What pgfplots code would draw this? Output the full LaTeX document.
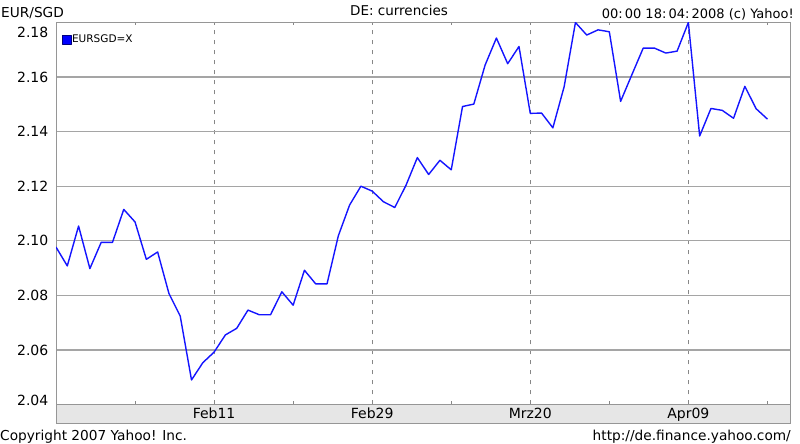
\documentclass[border=0pt]{standalone}
\usepackage{fontspec}
\setmainfont{DejaVu Sans}
\usepackage{pgfplots}
\pgfplotsset{compat=1.18}
\definecolor{gridgray}{RGB}{165,165,165}
\definecolor{dashgray}{RGB}{135,135,135}
\definecolor{framegray}{RGB}{150,150,150}
\definecolor{bandgray}{RGB}{230,230,230}
\definecolor{lineblue}{RGB}{20,20,255}
\pgfplotstableread{
idx val
0 2.0977
1 2.0908
2 2.1054
3 2.0898
4 2.0994
5 2.0994
6 2.1115
7 2.1069
8 2.0932
9 2.0959
10 2.0807
11 2.0724
12 2.0490
13 2.0553
14 2.0592
15 2.0655
16 2.0679
17 2.0746
18 2.0729
19 2.0729
20 2.0813
21 2.0764
22 2.0892
23 2.0842
24 2.0842
25 2.1018
26 2.1131
27 2.1200
28 2.1182
29 2.1143
30 2.1122
31 2.1204
32 2.1305
33 2.1243
34 2.1295
35 2.1260
36 2.1492
37 2.1501
38 2.1644
39 2.1743
40 2.1649
41 2.1712
42 2.1467
43 2.1468
44 2.1414
45 2.1565
46 2.1800
47 2.1754
48 2.1773
49 2.1766
50 2.1511
51 2.1609
52 2.1706
53 2.1706
54 2.1688
55 2.1695
56 2.1800
57 2.1384
58 2.1485
59 2.1478
60 2.1449
61 2.1566
62 2.1484
63 2.1446
}\eursgd
\begin{document}
\begin{tikzpicture}
\useasboundingbox (0pt,0pt) rectangle (800pt,444pt);
\fill[white] (0pt,0pt) rectangle (800pt,444pt);
\draw[fill=bandgray, draw=framegray, line width=0.8pt] (56pt,21pt) rectangle (790pt,39.5pt);
\begin{axis}[
  name=ax,
  at={(56pt,39.5pt)}, anchor=south west,
  scale only axis, width=734pt, height=382pt,
  xmin=0, xmax=65, ymin=2.04, ymax=2.18,
  xtick={14,28,42,56},
  xticklabels={Feb11,Feb29,Mrz20,Apr09},
  minor xtick={7,21,35,49,63},
  ytick={2.04,2.06,2.08,2.10,2.12,2.14,2.16,2.18},
  yticklabels={,2.06,2.08,2.10,2.12,2.14,2.16,},
  xtick pos=both,
  tick align=inside,
  major tick length=3pt, minor tick length=3pt,
  x tick style={color=dashgray, line width=0.8pt},
  y tick style={draw=none},
  xmajorgrids, ymajorgrids,
  major x grid style={dashgray, line width=0.9pt, dash pattern=on 4pt off 6pt},
  major y grid style={gridgray, line width=1.2pt},
  axis line style={draw=framegray, line width=0.8pt},
  tick label style={font=\fontsize{14}{16}\selectfont},
  xticklabel style={anchor=base, yshift=-14.5pt, inner sep=0pt},
  yticklabel style={anchor=east, inner sep=0pt, xshift=-7.5pt},
  legend style={at={(0,1)}, anchor=north west, xshift=6pt, yshift=-11.5pt,
    draw=none, fill=none, inner sep=0pt, nodes={inner sep=0.5pt},
    font=\fontsize{10.5}{11}\selectfont,
    /tikz/every even column/.append style={column sep=5pt}},
  legend image code/.code={\draw[fill=blue, draw=blue!50!black, line width=0.4pt] (0pt,-4.5pt) rectangle (9pt,4.5pt);},
]
\addplot[lineblue, line width=1.4pt, line join=round] table[x=idx, y=val] {\eursgd};
\addlegendentry{EURSGD=X}
\end{axis}
\node[anchor=east, inner sep=0pt, font=\fontsize{14}{16}\selectfont] at ([xshift=-7.5pt, yshift=-10pt]ax.north west) {2.18};
\node[anchor=east, inner sep=0pt, font=\fontsize{14}{16}\selectfont] at ([xshift=-7.5pt, yshift=4.5pt]ax.south west) {2.04};
\node[anchor=base west, inner sep=0pt, font=\fontsize{13.7}{16}\selectfont] at (1pt,426pt) {EUR/SGD};
\node[anchor=base, inner sep=0pt, font=\fontsize{13.5}{16}\selectfont] at (399pt,428pt) {DE: currencies};
\node[anchor=base east, inner sep=0pt, font=\fontsize{13}{16}\selectfont] at (794pt,425.7pt) {00:\,00 18:\,04:\,2008 (c) Yahoo!};
\node[anchor=base west, inner sep=0pt, font=\fontsize{13.7}{16}\selectfont] at (0pt,3.6pt) {Copyright 2007 Yahoo! Inc.};
\node[anchor=base east, inner sep=0pt, font=\fontsize{13.7}{16}\selectfont] at (791pt,3.6pt) {http://de.finance.yahoo.com/};
\end{tikzpicture}
\end{document}
